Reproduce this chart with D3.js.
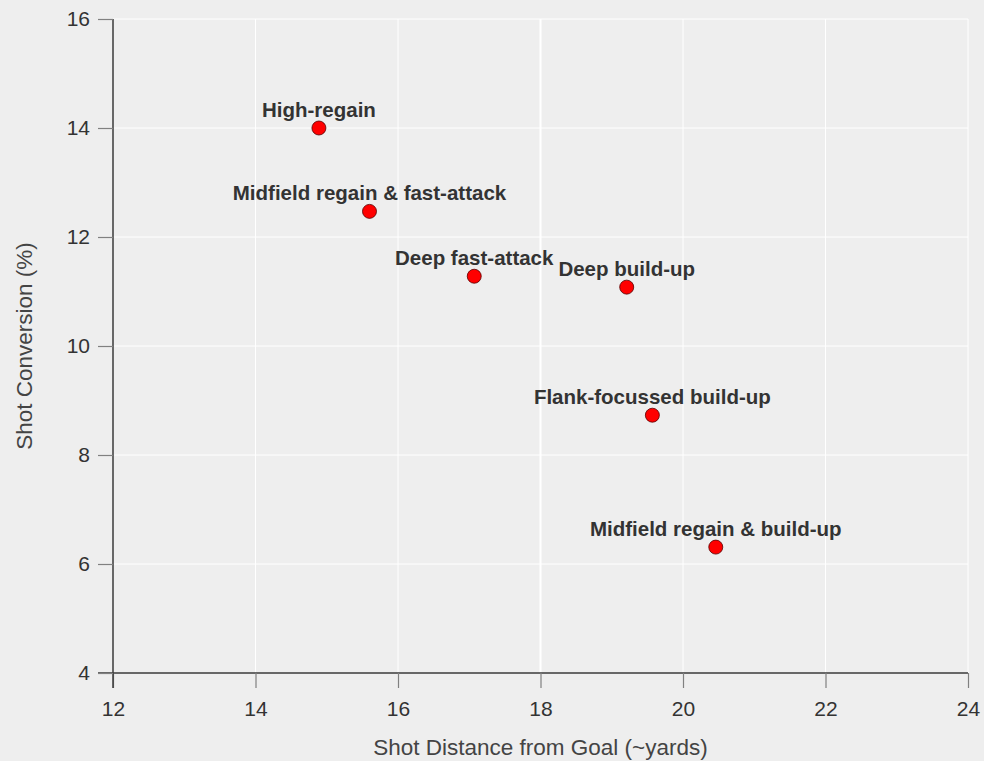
<!DOCTYPE html>
<html>
<head>
<meta charset="utf-8">
<script src="https://cdn.jsdelivr.net/npm/d3@7"></script>
<style>
  html, body { margin: 0; padding: 0; background: #eeeeee; }
  svg { display: block; font-family: "Liberation Sans", Arial, sans-serif; }
</style>
</head>
<body>
<div id="chart"></div>
<script>
// Data
const styles = ["High-regain", "Midfield regain & fast-attack", "Deep fast-attack",
  "Deep build-up", "Flank-focussed build-up", "Midfield regain & build-up"];
const shotDistance = [14.89, 15.60, 17.07, 19.21, 19.57, 20.46];
const shotConversion = [14.0, 12.47, 11.28, 11.08, 8.73, 6.31];
const xTicks = [12, 14, 16, 18, 20, 22, 24];
const yTicks = [4, 6, 8, 10, 12, 14, 16];

const width = 984, height = 761;
const margin = { top: 19, right: 16, bottom: 88, left: 113 };

const svg = d3.select("#chart").append("svg")
  .attr("width", width)
  .attr("height", height);

const x = d3.scaleLinear().domain([12, 24]).range([margin.left, width - margin.right]);
const y = d3.scaleLinear().domain([4, 16]).range([height - margin.bottom, margin.top]);

// Gridlines
svg.append("g")
  .selectAll("line")
  .data(xTicks.slice(1))
  .enter().append("line")
  .attr("x1", d => x(d)).attr("x2", d => x(d))
  .attr("y1", y(4)).attr("y2", y(16))
  .attr("stroke", "#ffffff")
  .attr("stroke-width", d => d === 18 ? 2 : 1);

svg.append("g")
  .selectAll("line")
  .data(yTicks.slice(1))
  .enter().append("line")
  .attr("x1", x(12)).attr("x2", x(24))
  .attr("y1", d => y(d)).attr("y2", d => y(d))
  .attr("stroke", "#ffffff")
  .attr("stroke-width", 1);

// Axes
const xAxis = svg.append("g")
  .attr("transform", `translate(0,${y(4)})`)
  .call(d3.axisBottom(x).tickValues(xTicks).tickSize(15).tickPadding(13).tickSizeOuter(0));

const yAxis = svg.append("g")
  .attr("transform", `translate(${x(12)},0)`)
  .call(d3.axisLeft(y).tickValues(yTicks).tickSize(15).tickPadding(8).tickSizeOuter(0));

[xAxis, yAxis].forEach(a => {
  a.select(".domain").attr("stroke", "#3a3a3a").attr("stroke-width", 1.5);
  a.selectAll(".tick line").attr("stroke", "#808080").attr("stroke-width", 1.2);
  a.selectAll(".tick text")
    .style("font-size", "21px")
    .style("fill", "#333")
    .style("font-family", "'Liberation Sans', Arial, sans-serif");
});
// extend the axis lines through each other like the reference
yAxis.select(".domain").attr("d", `M0,${y(16)}V${y(4) + 15}`);
xAxis.select(".domain").attr("d", `M${x(12) - 15},0H${x(24)}`);

// Axis titles
svg.append("text")
  .attr("x", (x(12) + x(24)) / 2)
  .attr("y", 755)
  .attr("text-anchor", "middle")
  .style("font-size", "22.5px")
  .style("fill", "#444")
  .text("Shot Distance from Goal (~yards)");

svg.append("text")
  .attr("transform", `translate(32,${(y(4) + y(16)) / 2}) rotate(-90)`)
  .attr("text-anchor", "middle")
  .style("font-size", "22.5px")
  .style("fill", "#444")
  .text("Shot Conversion (%)");

// Points and labels
const pts = styles.map((s, i) => ({ name: s, dist: shotDistance[i], conv: shotConversion[i] }));

svg.append("g")
  .selectAll("circle")
  .data(pts)
  .enter().append("circle")
  .attr("cx", d => x(d.dist))
  .attr("cy", d => y(d.conv))
  .attr("r", 7)
  .attr("fill", "#ff0000")
  .attr("stroke", "#550000")
  .attr("stroke-width", 0.8);

svg.append("g")
  .selectAll("text")
  .data(pts)
  .enter().append("text")
  .attr("x", d => x(d.dist))
  .attr("y", d => y(d.conv) - 11)
  .attr("text-anchor", "middle")
  .style("font-size", "20.5px")
  .style("font-weight", "bold")
  .style("fill", "#333")
  .text(d => d.name);
</script>
</body>
</html>
